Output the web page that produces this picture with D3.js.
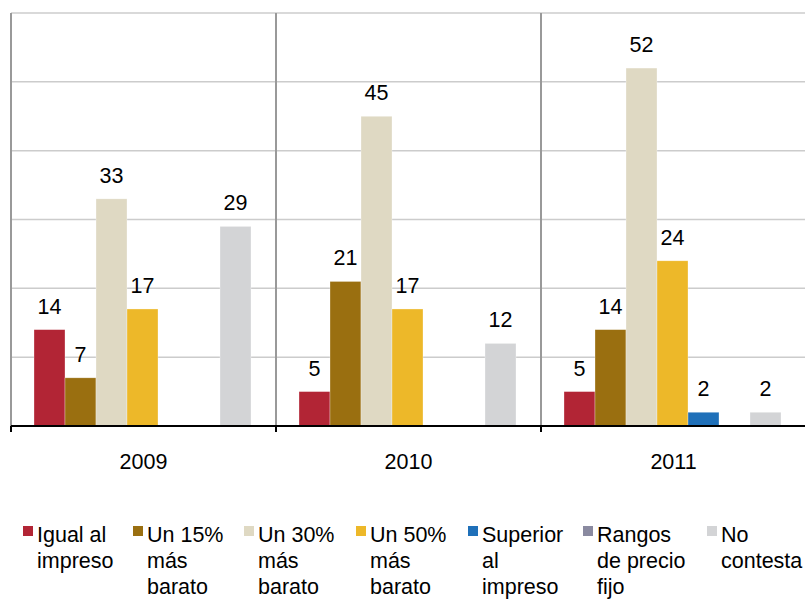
<!DOCTYPE html>
<html>
<head>
<meta charset="utf-8">
<script src="https://cdn.jsdelivr.net/npm/d3@7"></script>
<style>
html,body{margin:0;padding:0;background:#fff;}
svg{display:block;font-family:"Liberation Sans",Arial,Helvetica,sans-serif;}
</style>
</head>
<body>
<svg id="chart" width="805" height="599"></svg>
<script>
const categories = ["2009", "2010", "2011"];
const seriesNames = ["Igual al impreso", "Un 15% más barato", "Un 30% más barato", "Un 50% más barato", "Superior al impreso", "Rangos de precio fijo", "No contesta"];
const legendLines = [["Igual al", "impreso"], ["Un 15%", "más", "barato"], ["Un 30%", "más", "barato"], ["Un 50%", "más", "barato"], ["Superior", "al", "impreso"], ["Rangos", "de precio", "fijo"], ["No", "contesta"]];
const colors = ["#B22535", "#9A6F10", "#DFD9C3", "#EDB829", "#1F70B9", "#8A8AA0", "#D3D4D6"];
const values2009 = [14, 7, 33, 17, null, null, 29];
const values2010 = [5, 21, 45, 17, null, null, 12];
const values2011 = [5, 14, 52, 24, 2, null, 2];
const valuesByCategory = [values2009, values2010, values2011];
const yTicks = [10, 20, 30, 40, 50, 60];

const svg = d3.select("#chart");
const x0 = d3.scaleBand().domain(categories).range([11, 806]).padding(0);
const x1 = d3.scaleBand().domain(seriesNames).range([23, 240]).padding(0);
const y = d3.scaleLinear().domain([0, 60]).range([426, 13]);
const FS = 21.5;

// horizontal gridlines
svg.append("g").selectAll("line").data(yTicks).join("line")
  .attr("x1", 11).attr("x2", 806)
  .attr("y1", d => y(d)).attr("y2", d => y(d))
  .attr("stroke", "#CCCCCC").attr("stroke-width", 1.5);

// vertical separators
const seps = categories.map(c => x0(c)).concat([x0(categories[categories.length - 1]) + x0.bandwidth()]);
svg.append("g").selectAll("line").data(seps).join("line")
  .attr("x1", d => d).attr("x2", d => d)
  .attr("y1", y(60)).attr("y2", y(0))
  .attr("stroke", "#999999").attr("stroke-width", 2);

// bars
const groups = svg.append("g").selectAll("g").data(categories).join("g")
  .attr("transform", c => `translate(${x0(c)},0)`);
groups.each(function(c, ci) {
  const vals = valuesByCategory[ci].map((v, i) => ({v, i, s: seriesNames[i]})).filter(d => d.v !== null);
  const g = d3.select(this);
  g.selectAll("rect").data(vals).join("rect")
    .attr("x", d => x1(d.s)).attr("width", x1.bandwidth())
    .attr("y", d => y(d.v)).attr("height", d => y(0) - y(d.v))
    .attr("fill", d => colors[d.i])
    .attr("stroke", "rgba(255,255,255,0.5)").attr("stroke-width", 0.6);
  g.selectAll("text").data(vals).join("text")
    .attr("x", d => x1(d.s) + x1.bandwidth() / 2)
    .attr("y", d => y(d.v) - 16)
    .attr("text-anchor", "middle")
    .attr("font-size", FS).attr("fill", "#000")
    .text(d => d.v);
});

// x axis
svg.append("line").attr("x1", 11).attr("x2", 806).attr("y1", y(0)).attr("y2", y(0))
  .attr("stroke", "#000").attr("stroke-width", 2);
svg.append("g").selectAll("line").data(seps).join("line")
  .attr("x1", d => d).attr("x2", d => d)
  .attr("y1", y(0)).attr("y2", y(0) + 6)
  .attr("stroke", "#000").attr("stroke-width", 2);
svg.append("g").selectAll("text").data(categories).join("text")
  .attr("x", c => x0(c) + x0.bandwidth() / 2)
  .attr("y", 469)
  .attr("text-anchor", "middle")
  .attr("font-size", FS).attr("fill", "#000")
  .text(c => c);

// legend
const legendX = [23, 133, 244, 356, 468, 583, 707];
const lg = svg.append("g").selectAll("g").data(seriesNames).join("g")
  .attr("transform", (d, i) => `translate(${legendX[i]},0)`);
lg.append("rect").attr("x", 0).attr("y", 526).attr("width", 10).attr("height", 10)
  .attr("fill", (d, i) => colors[i]);
lg.each(function(d, i) {
  d3.select(this).selectAll("text").data(legendLines[i]).join("text")
    .attr("x", 14).attr("y", (t, k) => 542 + k * 26)
    .attr("font-size", FS).attr("fill", "#000")
    .text(t => t);
});
</script>
</body>
</html>
